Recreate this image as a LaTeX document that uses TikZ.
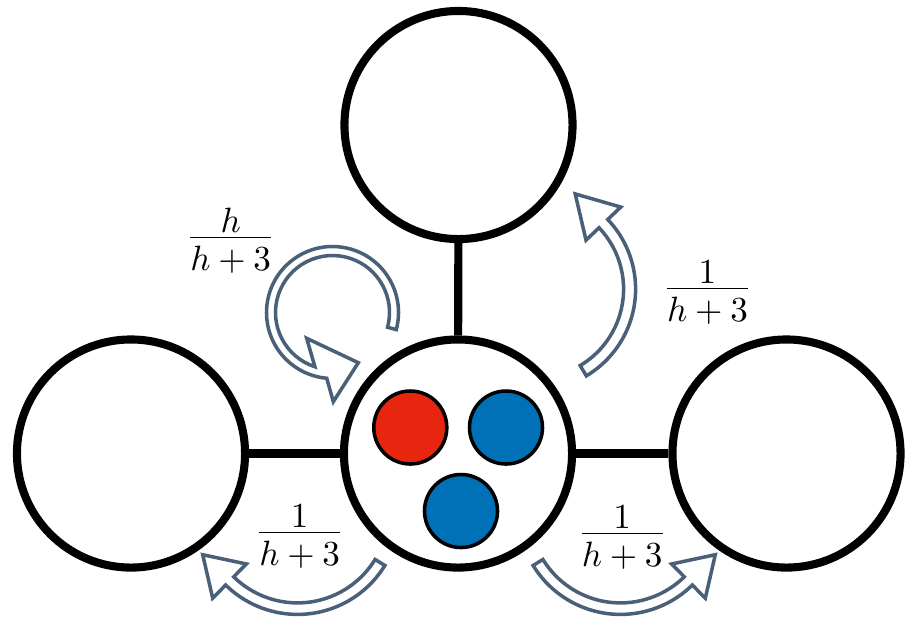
\documentclass[tikz,border=0pt]{standalone}
\usepackage{amsmath}
\usepackage{tikz}
\usetikzlibrary{calc}

\definecolor{arrowgray}{RGB}{74,95,120}
\definecolor{ionred}{RGB}{232,37,14}
\definecolor{ionblue}{RGB}{0,113,182}

\tikzset{
  site/.style={circle, draw=black, fill=white, line width=2.3pt, minimum size=2.28cm, inner sep=0pt},
  bond/.style={line width=2.3pt},
  ion/.style={circle, draw=black, line width=1pt, minimum size=0.73cm, inner sep=0pt},
  hop/.style={draw=arrowgray, line width=1pt, line join=miter},
  rate/.style={anchor=base, inner sep=0pt}
}

\begin{document}
\begin{tikzpicture}[x=0.01cm, y=-0.01cm]
\useasboundingbox (0,0) rectangle (906,617);

% Lattice sites
\node[site] (top) at (458.5,125) {};
\node[site] (mid) at (458,453.5) {};
\node[site] (left) at (131,453.5) {};
\node[site] (right) at (786.5,453.5) {};

% Bonds
\draw[bond] (top) -- (mid);
\draw[bond] (left) -- (mid);
\draw[bond] (mid) -- (right);

% Particles on the middle site
\node[ion, fill=ionred] (p1) at (410.3,427.5) {};
\node[ion, fill=ionblue] (p2) at (506,427.5) {};
\node[ion, fill=ionblue] (p3) at (461,511) {};

% Hopping arrows
\draw[hop, shift={(332.5,312.5)}] (15:66) arc[start angle=15, end angle=-265, radius=66]
  -- (0.8,89.2) -- (25.8,50.2) -- (-25.8,25.8) -- (-252:57)
  arc[start angle=-252, end angle=15, radius=57] -- cycle;
\draw[hop, shift={(534.6,289.1)}] (59.2:101) arc[start angle=59.2, end angle=-43.6, radius=101]
  -- (-43.6:119) -- (-66.9:103.5) -- (-43.6:71) -- (-43.6:89)
  arc[start angle=-43.6, end angle=59.2, radius=89] -- cycle;
\draw[hop, shift={(297.5,511.9)}] (31.5:102.5) arc[start angle=31.5, end angle=134.5, radius=102.5]
  -- (134.5:121) -- (155.7:104) -- (134.5:73) -- (134.5:91)
  arc[start angle=134.5, end angle=31.5, radius=91] -- cycle;
\draw[hop, shift={(620.5,511.9)}] (148.5:102.5) arc[start angle=148.5, end angle=45.5, radius=102.5]
  -- (45.5:121) -- (24.3:104) -- (45.5:73) -- (45.5:91)
  arc[start angle=45.5, end angle=148.5, radius=91] -- cycle;

% Rates
\node[rate] (stay) at (230.7,246.1) {$\dfrac{\raisebox{-2.8pt}{$h$}}{h+3}$};
\node[rate] (up) at (707.5,297.1) {$\dfrac{\raisebox{-2.8pt}{$1$}}{h+3}$};
\node[rate] (toleft) at (299.7,541.5) {$\dfrac{\raisebox{-2.8pt}{$1$}}{h+3}$};
\node[rate] (toright) at (622.2,542.1) {$\dfrac{\raisebox{-2.8pt}{$1$}}{h+3}$};
\end{tikzpicture}
\end{document}
